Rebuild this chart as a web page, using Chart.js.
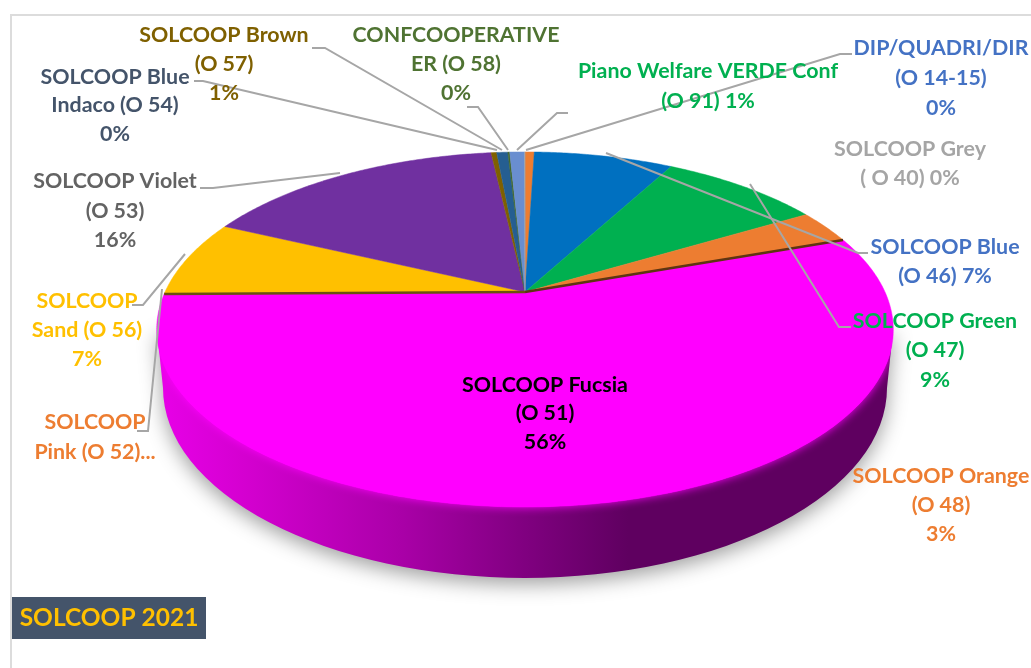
<!DOCTYPE html>
<html>
<head>
<meta charset="utf-8">
<title>SOLCOOP 2021</title>
<script src="https://cdn.jsdelivr.net/npm/chart.js@4"></script>
<style>
  html, body { margin: 0; padding: 0; background: #fff; }
  canvas { display: block; }
</style>
</head>
<body>
<canvas id="pie" width="1031" height="668"></canvas>
<script>
// slices clockwise from 12 o'clock
const categories = [
  'Piano Welfare VERDE Conf (O 91)', 'SOLCOOP Blue (O 46)', 'SOLCOOP Green (O 47)',
  'SOLCOOP Orange (O 48)', 'SOLCOOP Fucsia (O 51)', 'SOLCOOP Pink (O 52)',
  'SOLCOOP Sand (O 56)', 'SOLCOOP Violet (O 53)', 'SOLCOOP Brown (O 57)',
  'SOLCOOP Blue Indaco (O 54)', 'CONFCOOPERATIVE ER (O 58)', 'DIP/QUADRI/DIR (O 14-15)',
  'SOLCOOP Grey (O 40)'
];
const values = [0.5, 7.5, 8.6, 3.1, 55.2, 0.1, 7, 16.3, 0.3, 0.6, 0.1, 0.8, 0.02];
const colors = [
  '#ed7d31', '#0070c0', '#00b050', '#ed7d31', '#ff00ff', '#ff66cc', '#ffc000',
  '#7030a0', '#7f6000', '#255e91', '#43682b', '#698ed0', '#a5a5a5'
];

// text blocks: lines, centre x, middle y of each line, colour
const labels = [
  { lines: ['SOLCOOP Brown', '(O 57)', '1%'], x: 224, y: [35, 64, 93], color: '#7f6000' },
  { lines: ['CONFCOOPERATIVE', 'ER (O 58)', '0%'], x: 456, y: [35, 64, 93], color: '#4f7332' },
  { lines: ['Piano Welfare VERDE Conf', '(O 91) 1%'], x: 708, y: [71, 101], color: '#00b050' },
  { lines: ['DIP/QUADRI/DIR', '(O 14-15)', '0%'], x: 941, y: [48, 78, 108], color: '#4472c4' },
  { lines: ['SOLCOOP Grey', '( O 40) 0%'], x: 910, y: [149, 178], color: '#a5a5a5' },
  { lines: ['SOLCOOP Blue', '(O 46) 7%'], x: 945, y: [247, 276], color: '#4472c4' },
  { lines: ['SOLCOOP Green', '(O 47)', '9%'], x: 935, y: [321, 350, 380], color: '#00b050' },
  { lines: ['SOLCOOP Orange', '(O 48)', '3%'], x: 941, y: [476, 505, 534], color: '#ed7d31' },
  { lines: ['SOLCOOP Fucsia', '(O 51)', '56%'], x: 545, y: [385, 413, 442], color: '#000000' },
  { lines: ['SOLCOOP', 'Pink (O 52)...'], x: 95, y: [422, 452], color: '#ed7d31' },
  { lines: ['SOLCOOP', 'Sand (O 56)', '7%'], x: 87, y: [301, 330, 359], color: '#ffc000' },
  { lines: ['SOLCOOP Violet', '(O 53)', '16%'], x: 115, y: [181, 211, 240], color: '#636363' },
  { lines: ['SOLCOOP Blue', 'Indaco (O 54)', '0%'], x: 115, y: [77, 105, 134], color: '#44546a' }
];

const leaders = [
  [[312, 48], [325, 48], [502, 150]],
  [[194, 81], [203, 81], [497, 150]],
  [[467, 107], [478, 107], [508, 150]],
  [[200, 188], [213, 188], [340, 173]],
  [[132, 305], [143, 305], [185, 254]],
  [[137, 431], [148, 431], [162, 289]],
  [[606, 153], [858, 253], [868, 253]],
  [[750, 184], [839, 327], [851, 327]],
  [[526, 150], [840, 54], [852, 54]],
  [[517, 150], [557, 113], [568, 113]]
];

// tilted disc: circle seen in perspective, apex sits above the ellipse centre
const apexX = 525, apexY = 292, radX = 360, radY = 169.6, persp = 0.211;
function project(a) {
  const u = Math.cos(a), v = Math.sin(a), w = 1 - persp * v;
  return [apexX + radX * u / w, apexY + radY * v / w];
}
function wedge(ctx, start, end) {
  ctx.beginPath();
  ctx.moveTo(apexX, apexY);
  const steps = Math.max(2, Math.ceil((end - start) / 0.01));
  for (let i = 0; i <= steps; i++) {
    const p = project(start + (end - start) * i / steps);
    ctx.lineTo(p[0], p[1]);
  }
  ctx.closePath();
}
function wallPath(ctx) {
  ctx.beginPath();
  ctx.moveTo(157, 330);
  ctx.ellipse(525, 388, 362, 190, 0, Math.PI, 0, true);
  ctx.lineTo(893, 330);
  ctx.closePath();
}

const disc3d = {
  id: 'disc3d',
  // the flat arcs are replaced by their projected versions, so stop the default draw
  beforeDatasetsDraw(chart) {
    const ctx = chart.ctx;
    const arcs = chart.getDatasetMeta(0).data;
    const fucsia = categories.indexOf('SOLCOOP Fucsia (O 51)');

    const wall = ctx.createLinearGradient(157, 0, 893, 0);
    wall.addColorStop(0, '#e800e8');
    wall.addColorStop(0.12, '#d400d0');
    wall.addColorStop(0.33, '#aa00a8');
    wall.addColorStop(0.5, '#800080');
    wall.addColorStop(0.64, '#5f0060');
    wall.addColorStop(1, '#5f0060');
    ctx.save();
    wallPath(ctx);
    ctx.shadowColor = 'rgba(0,0,0,0.38)';
    ctx.shadowBlur = 20;
    ctx.shadowOffsetY = 6;
    ctx.fillStyle = wall;
    ctx.fill();
    ctx.restore();

    // soft magenta edge, kept on the wall only
    ctx.save();
    wallPath(ctx);
    ctx.clip();
    ctx.shadowColor = '#ff00ff';
    ctx.shadowBlur = 10;
    wedge(ctx, arcs[fucsia].startAngle, arcs[fucsia].endAngle);
    ctx.fillStyle = colors[fucsia];
    ctx.fill();
    ctx.restore();

    arcs.forEach((arc, i) => {
      wedge(ctx, arc.startAngle, arc.endAngle);
      ctx.fillStyle = colors[i];
      ctx.strokeStyle = colors[i];
      ctx.lineWidth = 0.5;
      ctx.fill();
      ctx.stroke();
    });

    // dark rims on the two cut edges of the big slice
    const a = project(arcs[fucsia].startAngle), b = project(arcs[fucsia].endAngle);
    ctx.lineWidth = 2.5;
    ctx.strokeStyle = '#5e3512';
    ctx.beginPath();
    ctx.moveTo(apexX, apexY);
    ctx.lineTo(a[0], a[1]);
    ctx.stroke();
    ctx.strokeStyle = '#6b5010';
    ctx.beginPath();
    ctx.moveTo(apexX, apexY);
    ctx.lineTo(b[0], b[1]);
    ctx.stroke();
    return false;
  },
  afterDraw(chart) {
    const ctx = chart.ctx;
    ctx.save();
    ctx.strokeStyle = '#a6a6a6';
    ctx.lineWidth = 2;
    leaders.forEach(pts => {
      ctx.beginPath();
      pts.forEach((p, i) => i ? ctx.lineTo(p[0], p[1]) : ctx.moveTo(p[0], p[1]));
      ctx.stroke();
    });

    ctx.font = 'bold 21.4px Lato';
    ctx.textAlign = 'center';
    ctx.textBaseline = 'middle';
    labels.forEach(l => {
      ctx.fillStyle = l.color;
      l.lines.forEach((t, i) => ctx.fillText(t, l.x, l.y[i]));
    });

    // frame of the original sheet
    ctx.fillStyle = '#dcdcdc';
    ctx.fillRect(10, 14, 1021, 2);
    ctx.fillRect(10, 14, 2, 654);

    // title box
    ctx.fillStyle = '#44546a';
    ctx.fillRect(12, 597, 194, 42);
    ctx.fillStyle = '#ffc000';
    ctx.font = 'bold 24.5px Lato';
    ctx.fillText('SOLCOOP 2021', 109, 618);
    ctx.restore();
  }
};

new Chart(document.getElementById('pie').getContext('2d'), {
  type: 'pie',
  data: {
    labels: categories,
    datasets: [{ data: values, backgroundColor: colors, borderWidth: 0 }]
  },
  options: {
    responsive: false,
    animation: false,
    plugins: { legend: { display: false }, tooltip: { enabled: false } }
  },
  plugins: [disc3d]
});
</script>
</body>
</html>
